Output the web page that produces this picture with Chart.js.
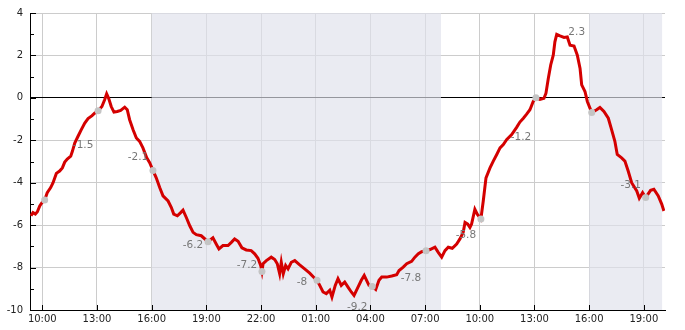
<!DOCTYPE html>
<html>
<head>
<meta charset="utf-8">
<script src="https://cdn.jsdelivr.net/npm/chart.js@4.4.1/dist/chart.umd.min.js"></script>
<style>
	body { margin: 0; background: #fff; }
	canvas { display: block; }
</style>
</head>
<body>
<canvas id="myChart" width="685" height="330"></canvas>
<script>
// hours counted from 10:00 of the first day
const temp_hours = [
	-0.62, -0.51, -0.38, -0.27, -0.14, -0.02, 0.13, 0.27, 0.46, 0.59, 0.77, 0.95,
	1.10, 1.23, 1.37, 1.56, 1.65, 1.78, 1.96, 2.14, 2.33, 2.51, 2.73, 2.87,
	3.06, 3.27, 3.42, 3.53, 3.64, 3.78, 3.93, 4.11, 4.30, 4.52, 4.66, 4.79,
	4.98, 5.16, 5.34, 5.52, 5.73, 5.89, 6.07, 6.25, 6.44, 6.62, 6.90, 7.08,
	7.21, 7.41, 7.59, 7.72, 7.90, 8.09, 8.27, 8.45, 8.72, 9.09, 9.36, 9.54,
	9.69, 9.91, 10.19, 10.37, 10.55, 10.74, 10.95, 11.19, 11.46, 11.65, 11.83, 11.98,
	12.05, 12.11, 12.29, 12.56, 12.75, 12.89, 13.02, 13.11, 13.22, 13.35, 13.48, 13.66,
	13.85, 14.12, 14.39, 14.67, 14.94, 15.07, 15.22, 15.40, 15.58, 15.77, 15.89, 16.07,
	16.22, 16.40, 16.59, 16.77, 16.95, 17.10, 17.28, 17.50, 17.66, 17.79, 17.92, 18.10,
	18.29, 18.47, 18.62, 18.89, 19.17, 19.44, 19.57, 19.80, 19.99, 20.26, 20.44, 20.63,
	20.81, 21.05, 21.27, 21.54, 21.72, 21.91, 22.09, 22.27, 22.49, 22.73, 22.91, 23.09,
	23.19, 23.34, 23.46, 23.55, 23.73, 23.86, 24.06, 24.19, 24.34, 24.56, 24.74, 24.93,
	25.11, 25.29, 25.47, 25.75, 26.02, 26.20, 26.39, 26.57, 26.75, 26.93, 27.08, 27.30,
	27.52, 27.63, 27.76, 27.89, 28.03, 28.12, 28.22, 28.40, 28.62, 28.80, 28.95, 29.17,
	29.35, 29.50, 29.59, 29.77, 29.90, 30.14, 30.41, 30.59, 30.81, 31.05, 31.23, 31.41,
	31.54, 31.78, 31.96, 32.14, 32.33, 32.61, 32.75, 32.93, 33.10, 33.37, 33.55, 33.79,
	33.98, 34.10
];
const temp_values = [
	-5.56, -5.41, -5.48, -5.37, -5.09, -4.94, -4.82, -4.47, -4.23, -4.00, -3.56, -3.45,
	-3.30, -3.03, -2.88, -2.75, -2.52, -2.13, -1.81, -1.50, -1.19, -0.98, -0.84, -0.72,
	-0.61, -0.41, -0.09, 0.19, -0.02, -0.41, -0.67, -0.64, -0.59, -0.44, -0.56, -1.03,
	-1.50, -1.89, -2.05, -2.36, -2.83, -3.06, -3.42, -3.77, -4.23, -4.62, -4.86, -5.17,
	-5.48, -5.56, -5.41, -5.29, -5.64, -6.03, -6.34, -6.45, -6.50, -6.78, -6.60, -6.89,
	-7.12, -6.96, -6.96, -6.81, -6.65, -6.76, -7.07, -7.17, -7.20, -7.35, -7.56, -7.90,
	-8.18, -7.82, -7.67, -7.51, -7.62, -7.82, -8.29, -7.75, -8.29, -7.90, -8.06, -7.75,
	-7.67, -7.87, -8.06, -8.26, -8.50, -8.60, -8.84, -9.15, -9.23, -9.07, -9.39, -8.84,
	-8.52, -8.84, -8.68, -8.92, -9.15, -9.31, -8.99, -8.60, -8.37, -8.60, -8.84, -8.89,
	-9.03, -8.60, -8.45, -8.45, -8.40, -8.34, -8.14, -7.98, -7.82, -7.71, -7.51, -7.35,
	-7.25, -7.21, -7.15, -7.04, -7.28, -7.51, -7.20, -7.04, -7.09, -6.89, -6.65, -6.34,
	-5.87, -5.95, -6.11, -5.95, -5.25, -5.48, -5.71, -4.86, -3.77, -3.30, -2.98, -2.67,
	-2.36, -2.20, -1.97, -1.73, -1.39, -1.14, -0.96, -0.77, -0.56, -0.17, 0.00, -0.07,
	-0.02, 0.22, 0.92, 1.55, 2.01, 2.64, 2.99, 2.92, 2.85, 2.87, 2.48, 2.44,
	2.01, 1.39, 0.61, 0.30, -0.17, -0.69, -0.56, -0.45, -0.64, -0.96, -1.50, -2.05,
	-2.67, -2.83, -2.98, -3.45, -4.00, -4.39, -4.73, -4.47, -4.70, -4.36, -4.31, -4.62,
	-5.01, -5.33
];

const mark_hours = [0.13, 3.06, 6.07, 9.09, 12.05, 15.07, 18.10, 21.05, 24.06, 27.08, 30.14, 33.10];
const mark_values = [-4.82, -0.61, -3.42, -6.78, -8.18, -8.60, -8.89, -7.21, -5.71, 0.00, -0.69, -4.70];
const label_texts = ['', '-1.5', '-2.1', '-6.2', '-7.2', '-8', '-9.2', '-7.8', '-5.8', '-1.2', '2.3', '-3.1'];
const label_at = [null, -2.23, -2.82, -6.93, -7.90, -8.71, -9.88, -8.52, -6.50, -1.86, 3.09, -4.14];

const tick_hours = [0, 3, 6, 9, 12, 15, 18, 21, 24, 27, 30, 33];
const tick_labels = ['10:00', '13:00', '16:00', '19:00', '22:00', '01:00', '04:00', '07:00', '10:00', '13:00', '16:00', '19:00'];

const night_from = [6, 30];
const night_to = [21.87, 34];

const font_name = "'DejaVu Sans', sans-serif";

const night_plugin = {
	id: 'night',
	beforeDatasetsDraw(chart) {
		const ctx = chart.ctx;
		const area = chart.chartArea;
		const xs = chart.scales.x;
		const ys = chart.scales.y;
		ctx.save();
		ctx.fillStyle = 'rgba(223,225,235,0.667)';
		for (let i = 0; i < night_from.length; i++) {
			const x1 = xs.getPixelForValue(night_from[i]);
			const x2 = xs.getPixelForValue(night_to[i]);
			ctx.fillRect(x1, area.top, x2 - x1, area.bottom - area.top);
		}
		// axis lines and inward tick marks
		ctx.strokeStyle = '#000';
		ctx.lineWidth = 1;
		ctx.beginPath();
		ctx.moveTo(area.left, area.bottom + 0.5);
		ctx.lineTo(area.right, area.bottom + 0.5);
		ys.ticks.forEach((t) => {
			const y = Math.round(ys.getPixelForValue(t.value)) + 0.5;
			const len = t.value % 2 === 0 ? 6 : 4;
			ctx.moveTo(area.left, y);
			ctx.lineTo(area.left + len, y);
		});
		tick_hours.forEach((h) => {
			const x = Math.round(xs.getPixelForValue(h)) + 0.5;
			ctx.moveTo(x, area.bottom);
			ctx.lineTo(x, area.bottom - 5);
		});
		ctx.stroke();
		ctx.restore();
	},
	afterDatasetsDraw(chart) {
		const ctx = chart.ctx;
		const xs = chart.scales.x;
		const ys = chart.scales.y;
		ctx.save();
		ctx.font = '10.5px ' + font_name;
		ctx.fillStyle = '#777';
		ctx.textAlign = 'center';
		ctx.textBaseline = 'middle';
		label_texts.forEach((txt, i) => {
			if (!txt) return;
			const x = xs.getPixelForValue(mark_hours[i]) - 15;
			const y = ys.getPixelForValue(label_at[i]);
			ctx.fillText(txt, x, y);
		});
		ctx.restore();
	},
};

const ctx = document.getElementById('myChart').getContext('2d');
const myChart = new Chart(ctx, {
	type: 'line',
	data: {
		datasets: [
			{
				data: mark_hours.map((h, i) => ({ x: h, y: mark_values[i] })),
				showLine: false,
				pointRadius: 3.5,
				pointBackgroundColor: '#c4c4c4',
				pointBorderWidth: 0,
			},
			{
				data: temp_hours.map((h, i) => ({ x: h, y: temp_values[i] })),
				borderColor: 'rgb(212,0,0)',
				borderWidth: 3,
				pointRadius: 0,
				tension: 0,
				fill: false,
			},
		],
	},
	options: {
		responsive: false,
		animation: false,
		devicePixelRatio: 1,
		layout: { padding: { top: 9, right: 20, left: 0, bottom: 0 } },
		plugins: {
			legend: { display: false },
			tooltip: { enabled: false },
		},
		scales: {
			x: {
				type: 'linear',
				min: -0.675,
				max: 34.16,
				afterBuildTicks: (s) => {
					s.ticks = tick_hours.map((v) => ({ value: v }));
				},
				afterFit: (s) => {
					s.height = 20;
				},
				ticks: {
					callback: (v, i) => tick_labels[i],
					autoSkip: false,
					maxRotation: 0,
					padding: 3,
					color: '#222',
					font: { family: font_name, size: 10 },
				},
				grid: { color: '#cccccc', drawTicks: false },
				border: { color: '#000', width: 1 },
			},
			y: {
				min: -10,
				max: 4,
				afterFit: (s) => {
					s.width = 30;
				},
				ticks: {
					stepSize: 1,
					autoSkip: false,
					callback: (v) => (v % 2 === 0 ? v : ''),
					padding: 7,
					color: '#222',
					font: { family: font_name, size: 10 },
				},
				grid: {
					drawTicks: false,
					color: (c) => {
						const v = c.tick.value;
						if (v === 0) return '#000';
						return v % 2 === 0 ? '#cccccc' : 'rgba(0,0,0,0)';
					},
				},
				border: { color: '#000', width: 1 },
			},
		},
	},
	plugins: [night_plugin],
});
</script>
</body>
</html>
